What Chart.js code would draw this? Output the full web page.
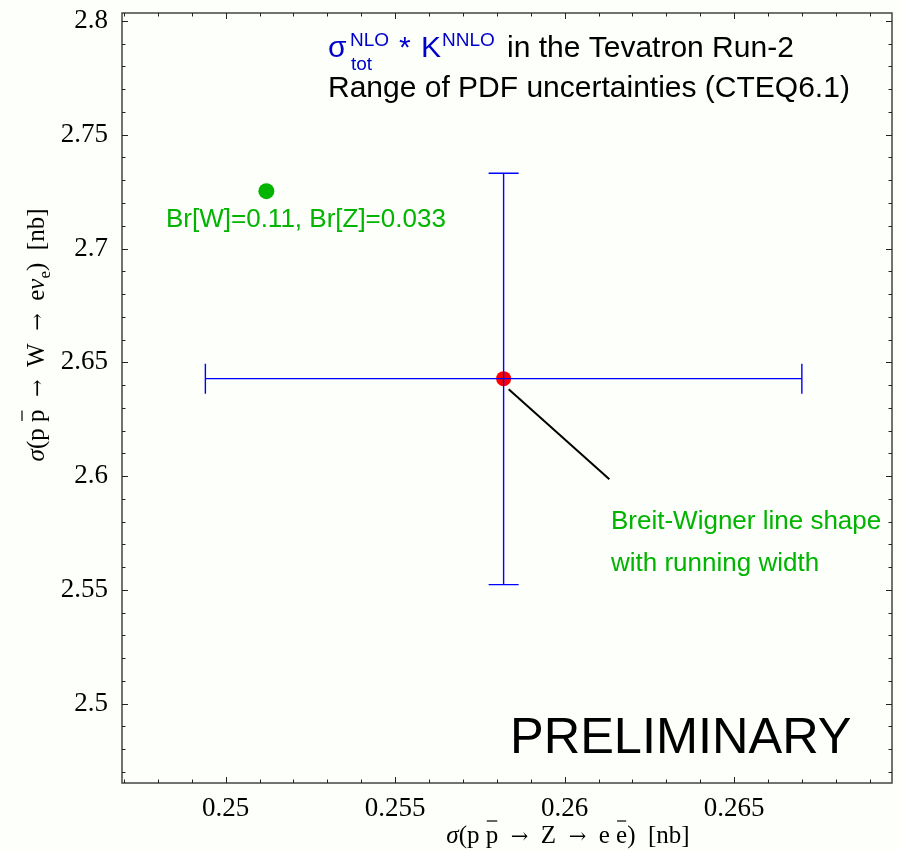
<!DOCTYPE html>
<html>
<head>
<meta charset="utf-8">
<script src="https://cdn.jsdelivr.net/npm/chart.js@4.4.1/dist/chart.umd.min.js"></script>
<style>
  html, body { margin: 0; padding: 0; background: #fcfffa; }
  #wrap { width: 901px; height: 850px; }
</style>
</head>
<body>
<div id="wrap"><canvas id="c" width="901" height="850"></canvas></div>
<script>
// ---- data ----
const centralZ = [0.2582];            // sigma(Z -> ee) [nb]
const centralW = [2.6428];            // sigma(W -> e nu) [nb]
const zRangeLow = [0.2494];
const zRangeHigh = [0.2670];
const wRangeLow = [2.5523];
const wRangeHigh = [2.7331];
const altZ = [0.2512];                // Br[W]=0.11, Br[Z]=0.033
const altW = [2.7252];
const pointerZ = [0.25835, 0.26132];  // pointer line to annotation
const pointerW = [2.6381, 2.5986];

const xRange = [0.24694, 0.26966];
const yRange = [2.4651, 2.8035];
const xMajorTicks = [0.25, 0.255, 0.26, 0.265];
const yMajorTicks = [2.5, 2.55, 2.6, 2.65, 2.7, 2.75, 2.8];
const xMinorTicks = [0.247, 0.248, 0.249, 0.251, 0.252, 0.253, 0.254, 0.256, 0.257, 0.258, 0.259,
                     0.261, 0.262, 0.263, 0.264, 0.266, 0.267, 0.268, 0.269];
const yMinorTicks = [2.47, 2.48, 2.49, 2.51, 2.52, 2.53, 2.54, 2.56, 2.57, 2.58, 2.59,
                     2.61, 2.62, 2.63, 2.64, 2.66, 2.67, 2.68, 2.69, 2.71, 2.72, 2.73, 2.74,
                     2.76, 2.77, 2.78, 2.79];

const BG = '#fcfffa';
const GREEN = '#00b400';
const TITLE_BLUE = '#0000cc';
const SANS = '"Liberation Sans", Arial, sans-serif';
const SERIF = '"Liberation Serif", "Times New Roman", serif';

function drawRuns(ctx, x, y, runs, align, barY) {
  let total = 0;
  runs.forEach(r => { ctx.font = r.font; total += ctx.measureText(r.t).width; });
  let cx = align === 'center' ? x - total / 2 : x;
  runs.forEach(r => {
    ctx.font = r.font;
    ctx.fillStyle = r.color || '#000';
    const w = ctx.measureText(r.t).width;
    ctx.fillText(r.t, cx, y + (r.dy || 0));
    if (r.bar) {
      ctx.strokeStyle = r.color || '#000';
      ctx.lineWidth = 1.2;
      ctx.beginPath();
      ctx.moveTo(cx + 1, y - barY);
      ctx.lineTo(cx + w - 1, y - barY);
      ctx.stroke();
    }
    cx += w;
  });
}

const decor = {
  id: 'decor',
  beforeDraw(chart) {
    const ctx = chart.ctx;
    ctx.save();
    ctx.fillStyle = BG;
    ctx.fillRect(0, 0, chart.width, chart.height);
    ctx.restore();
  },
  afterDatasetsDraw(chart) {
    const ctx = chart.ctx;
    const xs = chart.scales.x, ys = chart.scales.y;
    const a = chart.chartArea;
    ctx.save();
    // range bars
    ctx.strokeStyle = '#0000ff';
    ctx.lineWidth = 1.4;
    const cap = 15;
    for (let i = 0; i < centralZ.length; i++) {
      const px = xs.getPixelForValue(centralZ[i]);
      const py = ys.getPixelForValue(centralW[i]);
      const xl = xs.getPixelForValue(zRangeLow[i]);
      const xh = xs.getPixelForValue(zRangeHigh[i]);
      const yl = ys.getPixelForValue(wRangeLow[i]);
      const yh = ys.getPixelForValue(wRangeHigh[i]);
      ctx.beginPath();
      ctx.moveTo(xl, py); ctx.lineTo(xh, py);
      ctx.moveTo(xl, py - cap); ctx.lineTo(xl, py + cap);
      ctx.moveTo(xh, py - cap); ctx.lineTo(xh, py + cap);
      ctx.moveTo(px, yl); ctx.lineTo(px, yh);
      ctx.moveTo(px - cap, yl); ctx.lineTo(px + cap, yl);
      ctx.moveTo(px - cap, yh); ctx.lineTo(px + cap, yh);
      ctx.stroke();
    }
    // frame
    ctx.strokeStyle = '#444';
    ctx.lineWidth = 1.5;
    ctx.strokeRect(a.left, a.top, a.right - a.left, a.bottom - a.top);
    // inward ticks on all four sides
    ctx.strokeStyle = '#222';
    ctx.lineWidth = 1;
    const drawX = (vals, len) => vals.forEach(v => {
      const p = Math.round(xs.getPixelForValue(v)) + 0.5;
      ctx.beginPath();
      ctx.moveTo(p, a.bottom); ctx.lineTo(p, a.bottom - len);
      ctx.moveTo(p, a.top); ctx.lineTo(p, a.top + len);
      ctx.stroke();
    });
    const drawY = (vals, len) => vals.forEach(v => {
      const p = Math.round(ys.getPixelForValue(v)) + 0.5;
      ctx.beginPath();
      ctx.moveTo(a.left, p); ctx.lineTo(a.left + len, p);
      ctx.moveTo(a.right, p); ctx.lineTo(a.right - len, p);
      ctx.stroke();
    });
    drawX(xMajorTicks, 6); drawX(xMinorTicks, 3.5);
    drawY(yMajorTicks, 6); drawY(yMinorTicks, 3.5);

    // title block
    ctx.textAlign = 'left';
    ctx.textBaseline = 'alphabetic';
    const big = '30px ' + SANS, sm = '19px ' + SANS;
    ctx.fillStyle = TITLE_BLUE;
    ctx.font = big; ctx.fillText('σ', 328, 57);
    ctx.font = sm; ctx.fillText('NLO', 350, 46); ctx.fillText('tot', 351, 70);
    ctx.font = big; ctx.fillText('*', 399, 57); ctx.fillText('K', 421, 57);
    ctx.font = sm; ctx.fillText('NNLO', 442, 46);
    ctx.fillStyle = '#000';
    ctx.font = big; ctx.fillText('in the Tevatron Run-2', 507, 57);
    ctx.fillText('Range of PDF uncertainties (CTEQ6.1)', 328, 97);

    // annotations
    ctx.fillStyle = GREEN;
    ctx.font = '26px ' + SANS;
    ctx.fillText('Br[W]=0.11, Br[Z]=0.033', 166, 227);
    ctx.fillText('Breit-Wigner line shape', 611, 529);
    ctx.fillText('with running width', 611, 571);
    ctx.fillStyle = '#000';
    ctx.font = '50.5px ' + SANS;
    ctx.fillText('PRELIMINARY', 510, 753);

    // axis titles
    const f = '25px ' + SERIF, fi = 'italic 25px ' + SERIF, fs = '17px ' + SERIF;
    const fa = '21px "DejaVu Serif", serif';
    drawRuns(ctx, 568, 843, [
      {t: 'σ', font: fi}, {t: '(p ', font: f}, {t: 'p', font: f, bar: true},
      {t: '  ', font: f}, {t: '→', font: fa}, {t: '  Z  ', font: f}, {t: '→', font: fa},
      {t: '  e ', font: f}, {t: 'e', font: f, bar: true}, {t: ')  [nb]', font: f}
    ], 'center', 22);
    ctx.save();
    ctx.translate(44, 335);
    ctx.rotate(-Math.PI / 2);
    drawRuns(ctx, 0, 0, [
      {t: 'σ', font: fi}, {t: '(p ', font: f}, {t: 'p', font: f, bar: true},
      {t: '  ', font: f}, {t: '→', font: fa}, {t: '  W  ', font: f}, {t: '→', font: fa},
      {t: '  e', font: f}, {t: 'ν', font: fi}, {t: 'e', font: fs, dy: 6},
      {t: ')  [nb]', font: f}
    ], 'center', 22);
    ctx.restore();
    ctx.restore();
  }
};

new Chart(document.getElementById('c'), {
  type: 'scatter',
  data: {
    datasets: [
      {
        data: pointerZ.map((v, i) => ({x: v, y: pointerW[i]})),
        showLine: true, borderColor: '#000', borderWidth: 2, pointRadius: 0
      },
      {
        data: altZ.map((v, i) => ({x: v, y: altW[i]})),
        pointRadius: 8, backgroundColor: GREEN, borderWidth: 0
      },
      {
        data: centralZ.map((v, i) => ({x: v, y: centralW[i]})),
        pointRadius: 7.5, backgroundColor: '#ff0000', borderWidth: 0
      }
    ]
  },
  options: {
    responsive: false,
    animation: false,
    devicePixelRatio: 1,
    layout: { padding: { top: 13, right: 9, left: 0, bottom: 0 } },
    plugins: { legend: { display: false }, tooltip: { enabled: false } },
    scales: {
      x: {
        type: 'linear', position: 'bottom', min: xRange[0], max: xRange[1],
        grid: { display: false, drawTicks: false }, border: { display: false },
        afterBuildTicks: s => { s.ticks = xMajorTicks.map(v => ({value: v})); },
        afterFit: s => { s.height = 67; s.paddingLeft = 0; s.paddingRight = 0; },
        ticks: {
          autoSkip: false, maxRotation: 0, color: '#000', padding: 10,
          font: { family: SERIF, size: 27 },
          callback: v => String(v)
        }
      },
      y: {
        type: 'linear', position: 'left', min: yRange[0], max: yRange[1],
        grid: { display: false, drawTicks: false }, border: { display: false },
        afterBuildTicks: s => { s.ticks = yMajorTicks.map(v => ({value: v})); },
        afterFit: s => { s.width = 122; s.paddingTop = 0; s.paddingBottom = 0; },
        ticks: {
          autoSkip: false, color: '#000', padding: 14,
          font: { family: SERIF, size: 27 },
          callback: v => String(v)
        }
      }
    }
  },
  plugins: [decor]
});
</script>
</body>
</html>
